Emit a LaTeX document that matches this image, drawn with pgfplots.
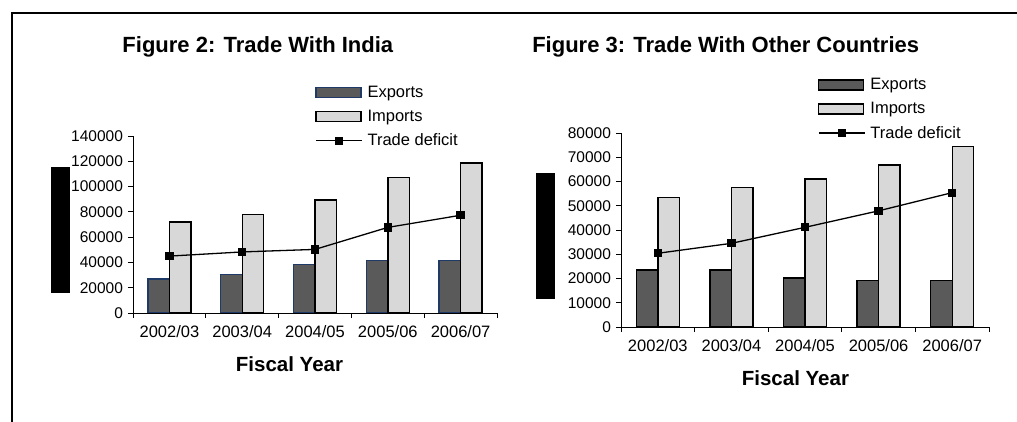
\documentclass[border=0pt]{standalone}
\usepackage{fontspec}
\setmainfont{Liberation Sans}
\usepackage{pgfplots}
\pgfplotsset{compat=1.18}

\definecolor{expfill}{HTML}{5A5A5A}
\definecolor{impfill}{HTML}{D8D8D8}
\definecolor{navy}{HTML}{1F3A66}

\pgfplotsset{
  tradestyle/.style={
    scale only axis,
    axis x line=bottom, axis y line=left,
    axis line style={-, line width=0.8pt, black},
    xmin=-0.5, xmax=4.5, ymin=0,
    xtick={0,...,4},
    xticklabels={2002/03,2003/04,2004/05,2005/06,2006/07},
    minor xtick={-0.5,0.5,...,4.5},
    tick align=outside,
    major tick length=5pt, minor tick length=5pt,
    major x tick style={draw=none},
    tick style={black, line width=0.8pt},
    scaled y ticks=false,
    /pgf/number format/fixed,
    /pgf/number format/precision=0,
    /pgf/number format/assume math mode=true,
    /pgf/number format/1000 sep={},
    yticklabel style={font=\fontsize{15.5}{17}\selectfont, xshift=-1.5pt},
    xticklabel style={font=\fontsize{16.5}{18}\selectfont, yshift=-4pt},
    xlabel={Fiscal Year},
    xlabel style={font=\bfseries\fontsize{20.5}{23}\selectfont, anchor=base},
    ylabel={\null},
    ylabel style={fill=black, minimum width=126pt, minimum height=19pt, inner sep=0pt, anchor=center},
    title style={font=\bfseries\fontsize{22}{25}\selectfont, anchor=base},
    legend cell align=left,
    legend style={draw=none, fill=none, inner sep=0pt, anchor=north west,
      font=\fontsize{16.5}{19}\selectfont, row sep=7pt, column sep=3pt},
  },
  expstyle/.style={ybar, bar width=21.5pt, bar shift=-10.75pt, fill=expfill, line width=1.3pt,
    legend image code/.code={\draw[##1] (0pt,-5pt) rectangle (45pt,5pt);}},
  impstyle/.style={ybar, bar width=21.5pt, bar shift=10.75pt, fill=impfill, draw=black, line width=1.4pt,
    legend image code/.code={\draw[##1] (0pt,-5pt) rectangle (45pt,5pt);}},
  defstyle/.style={black, line width=1.3pt, mark=square*, mark size=3.5pt,
    mark options={solid},
    legend image code/.code={\draw[##1,mark repeat=2,mark phase=2] plot coordinates {(0pt,0pt) (23pt,0pt) (46pt,0pt)};}},
}

\begin{document}
\begin{tikzpicture}[x=1pt,y=1pt]
\useasboundingbox (0,0) rectangle (1017,422);
\draw[line width=1.3pt] (12,0) -- (12,409) -- (1017,409);

\begin{axis}[tradestyle,
  at={(133pt,109pt)}, anchor=south west,
  width=364pt, height=177pt,
  ymax=140000, ytick={0,20000,...,140000},
  title={Figure 2: Trade With India},
  title style={at={(axis description cs:0.343,1.438)}},
  xlabel style={at={(axis description cs:0.43,-0.332)}},
  ylabel style={at={(axis description cs:-0.199,0.469)}},
  legend style={at={(axis description cs:0.5,1.293)}},
]
\addplot[expstyle, draw=navy] coordinates {(0,27000) (1,30500) (2,38500) (3,41500) (4,41500)};
\addlegendentry{Exports}
\addplot[impstyle] coordinates {(0,72000) (1,78000) (2,89500) (3,107000) (4,118500)};
\addlegendentry{Imports}
\addplot[defstyle] coordinates {(0,45000) (1,48300) (2,50300) (3,67700) (4,77300)};
\addlegendentry{Trade deficit}
\end{axis}

\begin{axis}[tradestyle,
  at={(621pt,95pt)}, anchor=south west,
  width=368pt, height=194pt,
  ymax=80000, ytick={0,10000,...,80000},
  title={Figure 3: Trade With Other Countries},
  title style={at={(axis description cs:0.2845,1.385)}},
  xlabel style={at={(axis description cs:0.474,-0.304)}},
  ylabel style={at={(axis description cs:-0.205,0.469)}},
  legend style={at={(axis description cs:0.535,1.292)}},
]
\addplot[expstyle, draw=black] coordinates {(0,23500) (1,23500) (2,20200) (3,19300) (4,19300)};
\addlegendentry{Exports}
\addplot[impstyle] coordinates {(0,53500) (1,57600) (2,61000) (3,66800) (4,74400)};
\addlegendentry{Imports}
\addplot[defstyle] coordinates {(0,30400) (1,34500) (2,41100) (3,47900) (4,55400)};
\addlegendentry{Trade deficit}
\end{axis}
\end{tikzpicture}
\end{document}
